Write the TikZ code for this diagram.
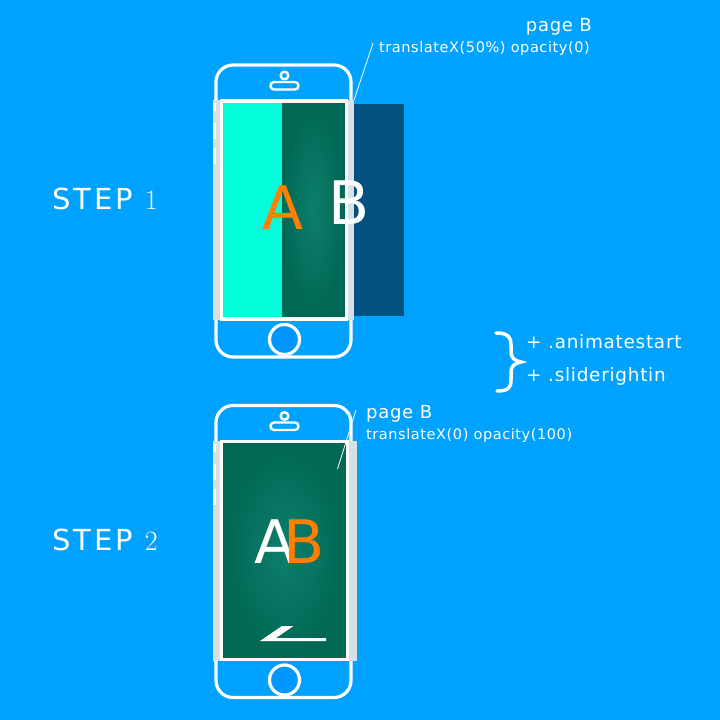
\documentclass[tikz,border=0pt]{standalone}
\usepackage{fontspec}
\newfontfamily\vf{DejaVu Sans}
\newfontfamily\vfs[LetterSpace=4]{DejaVu Sans}
\newfontfamily\vfw[LetterSpace=10]{DejaVu Sans}
\newfontfamily\lmr{Latin Modern Roman}
\definecolor{bg}{RGB}{0,162,255}
\definecolor{homeblue}{RGB}{0,150,255}
\definecolor{cyanpg}{RGB}{2,255,218}
\definecolor{tealin}{RGB}{14,126,108}
\definecolor{tealout}{RGB}{0,104,84}
\definecolor{darkpg}{RGB}{3,81,127}
\definecolor{stripgrey}{RGB}{214,224,231}
\definecolor{orangetxt}{RGB}{255,128,0}
\tikzset{
  phoneline/.style={draw=white, line width=3.2pt},
  thinline/.style={draw=white, line width=2.4pt},
  stripbox/.style={fill=stripgrey},
  buttonbox/.style={fill=white},
  bigletter/.style={font=\vf\fontsize{60}{60}\selectfont, inner sep=0pt, anchor=base west},
  steplabel/.style={font=\vfw\fontsize{29}{30}\selectfont, text=white, inner sep=0pt, anchor=base west},
  titlelabel/.style={font=\vfs\fontsize{18}{20}\selectfont, text=white, inner sep=0pt},
  smalllabel/.style={font=\vfs\fontsize{14.5}{16}\selectfont, text=white, inner sep=0pt},
  classlabel/.style={font=\vfs\fontsize{18.4}{20}\selectfont, text=white, inner sep=0pt, anchor=base west},
  callout/.style={draw=white, line width=0.8pt},
}
\newcommand\myphoneframe{%
  \draw[phoneline, rounded corners=17pt] (216,65) rectangle (351,357);
  \draw[thinline, rounded corners=3.6pt] (270.5,82) rectangle (298.5,89.5);
  \draw[thinline, fill=bg] (284.5,75.5) circle (3.8);
  \draw[phoneline, fill=homeblue] (284.5,339.5) circle (15);
}
\begin{document}
\begin{tikzpicture}[x=1pt,y=-1pt]
\useasboundingbox (0,0) rectangle (720,720);
\fill[bg] (0,0) rectangle (720,720);

% ---------- phone 1 ----------
\myphoneframe
\fill[cyanpg] (223,102) rectangle (282,317);
\shade[inner color=tealin, outer color=tealout] (282,102) rectangle (345,317);
\fill[darkpg] (345,103.5) rectangle (403.5,316);
\fill[stripbox] (213,100) rectangle (220,320);
\fill[stripbox] (348,100) rectangle (354,320);
\fill[buttonbox] (212.5,103) rectangle (216,111);
\fill[buttonbox] (212.5,123) rectangle (216,139);
\fill[buttonbox] (212.5,148) rectangle (216,164);
\draw[phoneline] (221.5,101) rectangle (346.5,319);
\node[bigletter, text=orangetxt] (A1) at (262,229) {A};
\node[bigletter, text=white] (B1) at (328,224) {B};

% ---------- phone 2 ----------
\begin{scope}[shift={(0,340.5)}]
\myphoneframe
\shade[inner color=tealin, outer color=tealout] (223,102) rectangle (346,317);
\fill[stripbox] (213,100) rectangle (220,320);
\fill[stripbox] (348,100) rectangle (356.5,320);
\fill[buttonbox] (212.5,103) rectangle (216,111);
\fill[buttonbox] (212.5,123) rectangle (216,139);
\fill[buttonbox] (212.5,148) rectangle (216,164);
\draw[phoneline] (221.5,101) rectangle (347.5,319);
\end{scope}
\node[bigletter, text=white] (A2) at (254,563.5) {A};
\node[bigletter, text=orangetxt] (B2) at (283,563.5) {B};
\fill[white] (260,641) -- (282,626) -- (293.5,626) -- (276,638) -- (326,638) -- (326,641) -- cycle;

% ---------- labels ----------
\node[steplabel] (step1) at (52,209) {STEP {\lmr\fontsize{28}{30}\selectfont 1}};
\node[steplabel] (step2) at (52,550) {STEP {\lmr\fontsize{28}{30}\selectfont 2}};

\node[titlelabel, anchor=base east] (pgB1) at (592,31.5) {page B};
\node[smalllabel, anchor=base west] (tr1) at (379,52.5) {translateX(50\%) opacity(0)};
\node[titlelabel, anchor=base west] (pgB2) at (366,418.5) {page B};
\node[smalllabel, anchor=base west] (tr2) at (366,439.5) {translateX(0) opacity(100)};

\coordinate (c1a) at (373,43);
\coordinate (c1b) at (354,100);
\draw[callout] (c1a) -- (c1b);
\coordinate (c2a) at (356,410);
\coordinate (c2b) at (337.5,469);
\draw[callout] (c2a) -- (c2b);

\draw[white, line width=3.5pt, line cap=round] (496,333) .. controls (508,333) and (511,337) .. (511,345) -- (511,352) .. controls (511,358) and (515,361) .. (521,362) .. controls (515,363) and (511,366) .. (511,372) -- (511,380) .. controls (511,388) and (508,391) .. (497,391);
\node[classlabel] (cls1) at (526,348.5) {+ .animatestart};
\node[classlabel] (cls2) at (526,381) {+ .sliderightin};
\end{tikzpicture}
\end{document}
